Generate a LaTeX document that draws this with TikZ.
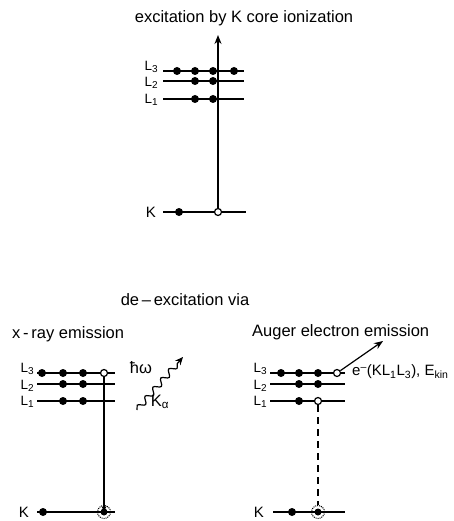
\documentclass[tikz,border=0pt]{standalone}
\usepackage{fontspec}
\setmainfont{Liberation Sans}
\usetikzlibrary{decorations.pathmorphing,arrows.meta}
\newcommand{\Lsub}[1]{L\raisebox{-2pt}{\fontsize{10}{10}\selectfont #1}}
\begin{document}
\begin{tikzpicture}[x=1pt,y=-1pt,
  lvl/.style={line width=1.4pt},
  el/.style={circle,fill=black,inner sep=0pt,minimum size=8pt},
  hole/.style={circle,draw=black,fill=white,line width=1.2pt,inner sep=0pt,minimum size=7pt},
  burst/.style={circle,draw=black,densely dotted,line width=1pt,inner sep=0pt,minimum size=13pt,
    path picture={\fill[black] (path picture bounding box.center) circle (3.5pt);}},
  txt/.style={font=\fontsize{16.5}{18}\selectfont,inner sep=0pt},
  lab/.style={font=\fontsize{13.5}{14}\selectfont,inner sep=0pt,anchor=east},
  vline/.style={line width=1.4pt},
  tip/.style={-{Stealth[length=9pt,width=7pt]}}
]
\useasboundingbox (0,0) rectangle (453,521);

% ---------- top: excitation ----------
\node[txt] (title) at (244,18) {excitation by K core ionization};

\coordinate (tL3a) at (163,71); \coordinate (tL3b) at (244,71);
\coordinate (tL2a) at (163,81); \coordinate (tL2b) at (244,81);
\coordinate (tL1a) at (163,99); \coordinate (tL1b) at (244,99);
\coordinate (tKa) at (163,212); \coordinate (tKb) at (246,212);
\draw[lvl] (tL3a) -- (tL3b);
\draw[lvl] (tL2a) -- (tL2b);
\draw[lvl] (tL1a) -- (tL1b);
\draw[lvl] (tKa) -- (tKb);

\node[lab] (tl3) at (158,66.5) {\Lsub{3}};
\node[lab] (tl2) at (158,82.5) {\Lsub{2}};
\node[lab] (tl1) at (158,99.5) {\Lsub{1}};
\node[lab,font=\fontsize{15}{15}\selectfont] (tk) at (156,212) {K};

\node[hole] (tKh) at (218,212) {};
\coordinate (ttop) at (218,35);
\draw[vline,tip] (tKh) -- (ttop);

\node[el] (t31) at (177,71) {};
\node[el] (t32) at (195,71) {};
\node[el] (t33) at (213,71) {};
\node[el] (t34) at (234,71) {};
\node[el] (t22) at (195,81) {};
\node[el] (t23) at (213,81) {};
\node[el] (t12) at (195,99) {};
\node[el] (t13) at (213,99) {};
\node[el] (tK1) at (179,212) {};

% ---------- bottom titles ----------
\node[txt] (via) at (185,300) {de\,–\,excitation via};
\node[txt,anchor=west] (xray) at (12,334) {x\,-\,ray emission};
\node[txt,anchor=west] (auger) at (252,332) {Auger electron emission};

% ---------- bottom left: x-ray ----------
\coordinate (lL3a) at (37,373); \coordinate (lL3b) at (115,373);
\coordinate (lL2a) at (37,384); \coordinate (lL2b) at (115,384);
\coordinate (lL1a) at (37,401); \coordinate (lL1b) at (115,401);
\coordinate (lKa) at (37,512); \coordinate (lKb) at (115,512);
\draw[lvl] (lL3a) -- (lL3b);
\draw[lvl] (lL2a) -- (lL2b);
\draw[lvl] (lL1a) -- (lL1b);
\draw[lvl] (lKa) -- (lKb);

\node[lab] (ll3) at (34,369) {\Lsub{3}};
\node[lab] (ll2) at (34,385.5) {\Lsub{2}};
\node[lab] (ll1) at (34,401.5) {\Lsub{1}};
\node[lab,font=\fontsize{15}{15}\selectfont] (lk) at (29,512) {K};

\node[el] (l31) at (42,373) {};
\node[el] (l32) at (63,373) {};
\node[el] (l33) at (83,373) {};
\node[hole] (l3h) at (104,373) {};
\node[el] (l22) at (63,384) {};
\node[el] (l23) at (83,384) {};
\node[el] (l12) at (63,401) {};
\node[el] (l13) at (83,401) {};
\node[el] (lK1) at (43,512) {};
\node[burst] (lKs) at (104,512) {};
\draw[vline,-{Stealth[length=6pt,width=5pt]}] (l3h) -- (lKs.center);

\coordinate (wA) at (137,410);
\coordinate (wB) at (183,357);
\draw[line width=1.2pt,decorate,decoration={snake,amplitude=3pt,segment length=12pt,post length=7pt},-{Stealth[length=8pt,width=7pt]}] (wA) -- (wB);
\node[txt] (hw) at (141,368) {ħω};
\node[txt] (ka) at (160,402) {K\textsubscript{α}};

% ---------- bottom right: Auger ----------
\coordinate (rL3a) at (270,373); \coordinate (rL3b) at (345,373);
\coordinate (rL2a) at (270,384); \coordinate (rL2b) at (345,384);
\coordinate (rL1a) at (270,401); \coordinate (rL1b) at (345,401);
\coordinate (rKa) at (273,512); \coordinate (rKb) at (345,512);
\draw[lvl] (rL3a) -- (rL3b);
\draw[lvl] (rL2a) -- (rL2b);
\draw[lvl] (rL1a) -- (rL1b);
\draw[lvl] (rKa) -- (rKb);

\node[lab] (rl3) at (267,369) {\Lsub{3}};
\node[lab] (rl2) at (267,385.5) {\Lsub{2}};
\node[lab] (rl1) at (267,401.5) {\Lsub{1}};
\node[lab,font=\fontsize{15}{15}\selectfont] (rk) at (264,512) {K};

\node[el] (r31) at (281,373) {};
\node[el] (r32) at (299,373) {};
\node[el] (r33) at (318,373) {};
\node[hole] (r3h) at (337,373) {};
\node[el] (r22) at (299,384) {};
\node[el] (r23) at (318,384) {};
\node[el] (r12) at (299,401) {};
\node[hole] (r1h) at (318,401) {};
\node[el] (rK1) at (292,512) {};
\node[burst] (rKs) at (318,512) {};
\draw[vline,dash pattern=on 7pt off 5pt] (r1h) -- (rKs);

\coordinate (augtip) at (383,341);
\draw[line width=1.2pt,tip] (r3h) -- (augtip);
\node[txt,font=\fontsize{15}{17}\selectfont,anchor=west] (elab) at (352,372) {e\textsuperscript{–}(KL\textsubscript{1}L\textsubscript{3}), E\textsubscript{kin}};
\end{tikzpicture}
\end{document}
